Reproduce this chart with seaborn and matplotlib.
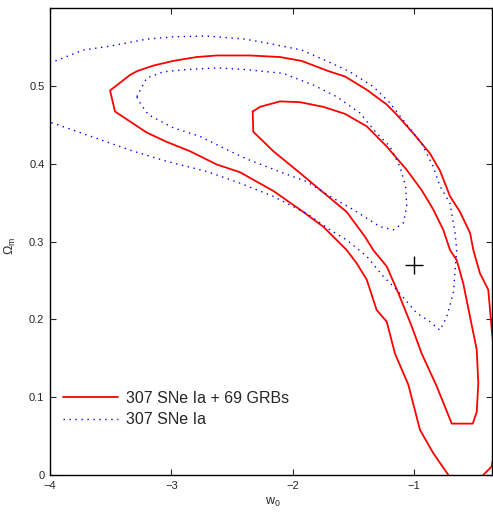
import pandas as pd
import matplotlib
matplotlib.use('Agg')
import matplotlib.pyplot as plt
import seaborn as sns

# contour lines (w0, Omega_m)
# 307 SNe Ia + 69 GRBs, outer contour (open, runs past the axes)
red_out_w = [-0.716, -0.840, -0.950, -1.046, -1.156, -1.224, -1.307, -1.389, -1.472, -1.554,
             -1.747, -1.912, -2.159, -2.434, -2.626, -2.846, -3.038, -3.203, -3.464, -3.505,
             -3.340, -3.280, -3.148, -2.984, -2.791, -2.626, -2.351, -2.104, -1.925, -1.706,
             -1.568, -1.389, -1.224, -1.142, -1.005, -0.867, -0.785, -0.702, -0.620, -0.537,
             -0.510, -0.455, -0.387, -0.356, -0.33, -0.32, -0.33, -0.359, -0.428, -0.45]
red_out_om = [0.0, 0.028, 0.058, 0.116, 0.156, 0.197, 0.212, 0.251, 0.272, 0.289,
              0.319, 0.338, 0.365, 0.389, 0.399, 0.416, 0.428, 0.440, 0.467, 0.494,
              0.514, 0.519, 0.526, 0.532, 0.537, 0.539, 0.539, 0.537, 0.532, 0.519,
              0.512, 0.495, 0.476, 0.463, 0.439, 0.413, 0.391, 0.358, 0.338, 0.311,
              0.289, 0.259, 0.238, 0.183, 0.15, 0.08, 0.035, 0.011, 0.0, -0.01]

# 307 SNe Ia + 69 GRBs, inner contour (closed)
red_in_w = [-2.329, -2.324, -2.159, -1.939, -1.747, -1.554, -1.403, -1.335, -1.224, -1.129,
            -1.018, -0.936, -0.812, -0.688, -0.515, -0.482, -0.469, -0.482, -0.537, -0.593,
            -0.647, -0.702, -0.758, -0.840, -0.936, -1.059, -1.224, -1.389, -1.568, -1.747,
            -1.939, -2.104, -2.269, -2.329]
red_in_om = [0.467, 0.441, 0.416, 0.388, 0.363, 0.338, 0.306, 0.289, 0.268, 0.234,
             0.191, 0.156, 0.114, 0.066, 0.066, 0.081, 0.118, 0.161, 0.203, 0.246,
             0.276, 0.289, 0.315, 0.341, 0.366, 0.392, 0.422, 0.448, 0.464, 0.473,
             0.479, 0.480, 0.473, 0.467]

# 307 SNe Ia, outer contour (open, leaves through the left edge)
blue_out_w = [-4.05, -3.973, -3.725, -3.505, -3.203, -2.984, -2.708, -2.392, -2.214, -1.925,
              -1.706, -1.527, -1.335, -1.197, -1.059, -0.936, -0.840, -0.785, -0.702, -0.661,
              -0.647, -0.675, -0.730, -0.785, -0.867, -0.977, -1.142, -1.252, -1.389, -1.554,
              -1.692, -1.884, -2.159, -2.434, -2.708, -3.038, -3.313, -3.588, -3.973, -4.05]
blue_out_om = [0.528, 0.531, 0.546, 0.551, 0.560, 0.563, 0.564, 0.560, 0.555, 0.546,
               0.531, 0.518, 0.499, 0.478, 0.450, 0.426, 0.396, 0.371, 0.349, 0.311,
               0.289, 0.234, 0.203, 0.186, 0.197, 0.208, 0.238, 0.255, 0.281, 0.302,
               0.315, 0.336, 0.358, 0.375, 0.390, 0.403, 0.416, 0.431, 0.452, 0.455]

# 307 SNe Ia, inner contour (closed)
blue_in_w = [-3.285, -3.203, -3.066, -2.873, -2.626, -2.392, -2.077, -1.829, -1.636, -1.444,
             -1.307, -1.197, -1.115, -1.068, -1.059, -1.087, -1.170, -1.279, -1.500, -1.692,
             -1.884, -2.077, -2.378, -2.543, -2.763, -2.984, -3.190, -3.258, -3.285]
blue_in_om = [0.486, 0.510, 0.518, 0.521, 0.523, 0.521, 0.516, 0.501, 0.486, 0.465,
              0.439, 0.422, 0.396, 0.371, 0.345, 0.324, 0.315, 0.319, 0.341, 0.358,
              0.377, 0.388, 0.406, 0.418, 0.435, 0.446, 0.463, 0.478, 0.486]

# fiducial point
fid_w = [-1.0]
fid_om = [0.27]

sns.set_style('ticks')
plt.rcParams['font.family'] = ['Liberation Sans', 'DejaVu Sans']

fig = plt.figure(figsize=(4.93, 5.13), dpi=100)
ax = fig.add_axes([50 / 493, 1 - 475 / 513, 442 / 493, 467 / 513])

red = dict(color='#ff0000', linewidth=1.3)
blue = dict(color='#0000ff', linewidth=1.0, linestyle=(0, (1, 3.3)))

sns.lineplot(x=red_out_w, y=red_out_om, sort=False, estimator=None, ax=ax, **red,
             label='307 SNe Ia + 69 GRBs')
sns.lineplot(x=red_in_w, y=red_in_om, sort=False, estimator=None, ax=ax, **red)
sns.lineplot(x=blue_out_w, y=blue_out_om, sort=False, estimator=None, ax=ax, **blue,
             label='307 SNe Ia')
sns.lineplot(x=blue_in_w, y=blue_in_om, sort=False, estimator=None, ax=ax, **blue)
ax.plot(fid_w, fid_om, marker='+', color='black', markersize=13, markeredgewidth=1.0,
        linestyle='none')

ax.set_xlim(-4, -4 + 442 / 121.3)
ax.set_ylim(0, 0.6)
ax.set_xticks([-4, -3, -2, -1])
ax.set_yticks([0, 0.1, 0.2, 0.3, 0.4, 0.5])
ax.set_yticklabels(['0', '0.1', '0.2', '0.3', '0.4', '0.5'])

for s in ax.spines.values():
    s.set_visible(True)
    s.set_linewidth(1.0)
    s.set_color('black')
ax.tick_params(direction='in', length=4, width=0.8, labelsize=8,
               top=True, right=True, labeltop=False, labelright=False, pad=4)

ax.set_xlabel('$\\mathregular{w_0}$', fontsize=9)
ax.set_ylabel('$\\mathregular{\\Omega_m}$', fontsize=9)
ax.xaxis.set_label_coords(0.505, -0.045)
ax.yaxis.set_label_coords(-0.072, 0.49)

leg = ax.legend(loc='center left', bbox_to_anchor=(0.014, 0.1415), frameon=False,
                fontsize=11.5, handlelength=3.45, handletextpad=0.5, labelspacing=0.4,
                borderpad=0.4, borderaxespad=0)

fig.savefig('out.png', dpi=100)
